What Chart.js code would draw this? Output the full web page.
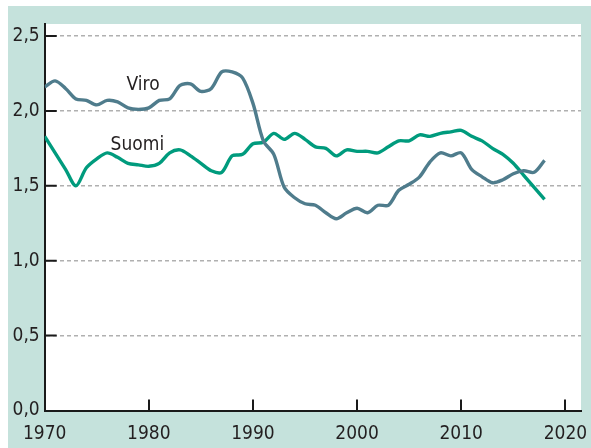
<!DOCTYPE html>
<html>
<head>
<meta charset="utf-8">
<script src="https://cdn.jsdelivr.net/npm/chart.js@4"></script>
<style>
html,body{margin:0;padding:0;background:#fff;}
#wrap{width:591px;height:448px;position:relative;}
</style>
</head>
<body>
<div id="wrap"><canvas id="c" width="591" height="448"></canvas></div>
<script>
const years = [1970,1971,1972,1973,1974,1975,1976,1977,1978,1979,1980,1981,1982,1983,1984,1985,1986,1987,1988,1989,1990,1991,1992,1993,1994,1995,1996,1997,1998,1999,2000,2001,2002,2003,2004,2005,2006,2007,2008,2009,2010,2011,2012,2013,2014,2015,2016,2017,2018];
const viro = [2.16,2.20,2.15,2.08,2.07,2.04,2.07,2.06,2.02,2.01,2.02,2.07,2.08,2.17,2.18,2.13,2.15,2.26,2.26,2.22,2.05,1.80,1.71,1.49,1.42,1.38,1.37,1.32,1.28,1.32,1.35,1.32,1.37,1.37,1.47,1.51,1.56,1.66,1.72,1.70,1.72,1.61,1.56,1.52,1.54,1.58,1.60,1.59,1.67];
const suomi = [1.83,1.72,1.61,1.50,1.62,1.68,1.72,1.69,1.65,1.64,1.63,1.65,1.72,1.74,1.70,1.65,1.60,1.59,1.70,1.71,1.78,1.79,1.85,1.81,1.85,1.81,1.76,1.75,1.70,1.74,1.73,1.73,1.72,1.76,1.80,1.80,1.84,1.83,1.85,1.86,1.87,1.83,1.80,1.75,1.71,1.65,1.57,1.49,1.41];
const xTicks = [1970,1980,1990,2000,2010,2020];
const yTicks = [0,0.5,1,1.5,2,2.5];
const seriesLabels = [
  {text:'Viro', x:1979.45, y:2.175},
  {text:'Suomi', x:1978.9, y:1.77}
];

const FONT = "'Liberation Sans Narrow','DejaVu Sans Condensed','Liberation Sans',sans-serif";

const bgPlugin = {
  id:'bg',
  beforeDraw(chart){
    const ctx = chart.ctx, a = chart.chartArea;
    ctx.save();
    ctx.fillStyle='#ffffff';
    ctx.fillRect(0,0,chart.width,chart.height);
    ctx.fillStyle='#c5e2dc';
    ctx.fillRect(8,6,chart.width-8,chart.height-6);
    ctx.fillStyle='#ffffff';
    ctx.fillRect(a.left,a.top,a.right-a.left,a.bottom-a.top);
    ctx.restore();
  }
};

const tickPlugin = {
  id:'innerTicks',
  afterDraw(chart){
    const ctx = chart.ctx, a = chart.chartArea;
    const xs = chart.scales.x, ys = chart.scales.y;
    ctx.save();
    ctx.strokeStyle='#1a1a1a';
    ctx.lineWidth=2;
    ctx.beginPath();
    xTicks.forEach(v=>{
      const px = Math.round(xs.getPixelForValue(v));
      if (v===1970) return;
      ctx.moveTo(px, a.bottom);
      ctx.lineTo(px, a.bottom-11);
    });
    yTicks.forEach(v=>{
      const py = ys.getPixelForValue(v);
      if (v===0) return;
      ctx.moveTo(a.left, py);
      ctx.lineTo(a.left+12, py);
    });
    ctx.stroke();
    ctx.fillStyle='#231f20';
    ctx.font = "19px " + FONT;
    ctx.textAlign='center';
    ctx.textBaseline='middle';
    seriesLabels.forEach(l=>{
      ctx.fillText(l.text, xs.getPixelForValue(l.x), ys.getPixelForValue(l.y));
    });
    ctx.restore();
  }
};

new Chart(document.getElementById('c'), {
  type:'line',
  data:{
    datasets:[
      {label:'Viro', data: years.map((y,i)=>({x:y,y:viro[i]})), borderColor:'#4f7c8c', borderWidth:3.4, pointRadius:0, tension:0.3, fill:false},
      {label:'Suomi', data: years.map((y,i)=>({x:y,y:suomi[i]})), borderColor:'#009b7d', borderWidth:3.4, pointRadius:0, tension:0.3, fill:false}
    ]
  },
  options:{
    responsive:false,
    animation:false,
    devicePixelRatio:1,
    layout:{padding:{left:0,top:24,right:10,bottom:0}},
    plugins:{legend:{display:false}, tooltip:{enabled:false}},
    scales:{
      x:{
        type:'linear', min:1970, max:2021.5,
        afterBuildTicks(s){ s.ticks = xTicks.map(v=>({value:v})); },
        afterFit(s){ s.height = 37.5; s.paddingLeft = 0; s.paddingRight = 0; s.paddingTop = 0; s.paddingBottom = 0; },
        grid:{display:false, drawTicks:false},
        border:{display:true, color:'#1a1a1a', width:2},
        ticks:{padding:12, color:'#231f20', font:{family:FONT, size:19}, maxRotation:0, autoSkip:false,
          callback:(v)=>String(v)}
      },
      y:{
        min:0, max:2.58,
        afterBuildTicks(s){ s.ticks = yTicks.map(v=>({value:v})); },
        afterFit(s){ s.width = 44.7; s.paddingTop = 0; s.paddingBottom = 0; },
        grid:{display:true, drawTicks:false, color:(c)=> c.tick && c.tick.value===0 ? 'rgba(0,0,0,0)' : '#b0b0b0', lineWidth:1.5},
        border:{display:true, color:'#1a1a1a', width:2, dash:[4,3]},
        ticks:{padding:5, color:'#231f20', font:{family:FONT, size:19},
          callback:(v)=>v.toFixed(1).replace('.',',')}
      }
    }
  },
  plugins:[bgPlugin, tickPlugin]
});
</script>
</body>
</html>
